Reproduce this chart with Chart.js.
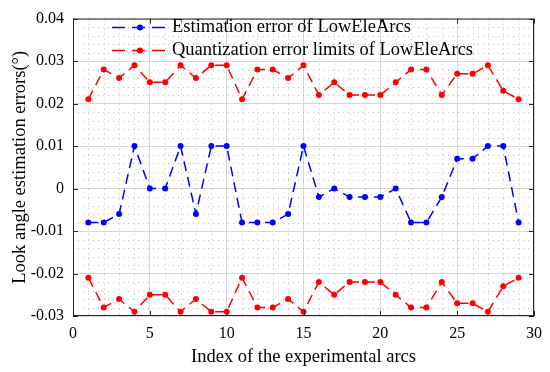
<!DOCTYPE html>
<html>
<head>
<meta charset="utf-8">
<script src="https://cdn.jsdelivr.net/npm/chart.js@4/dist/chart.umd.min.js"></script>
<style>
  html, body { margin: 0; padding: 0; background: #fff; }
  #wrap { width: 550px; height: 372px; }
</style>
</head>
<body>
<div id="wrap"><canvas id="errChart" width="550" height="372"></canvas></div>
<script>
// Index of the arcs and values
const arcIndex = [1, 2, 3, 4, 5, 6, 7, 8, 9, 10, 11, 12, 13, 14, 15, 16, 17, 18, 19, 20, 21, 22, 23, 24, 25, 26, 27, 28, 29];
const estError = [-0.008, -0.008, -0.006, 0.010, 0.000, 0.000, 0.010, -0.006, 0.010, 0.010,
                  -0.008, -0.008, -0.008, -0.006, 0.010, -0.002, 0.000, -0.002, -0.002, -0.002,
                  0.000, -0.008, -0.008, -0.002, 0.007, 0.007, 0.010, 0.010, -0.008];
const quantUpper = [0.021, 0.028, 0.026, 0.029, 0.025, 0.025, 0.029, 0.026, 0.029, 0.029,
                    0.021, 0.028, 0.028, 0.026, 0.029, 0.022, 0.025, 0.022, 0.022, 0.022,
                    0.025, 0.028, 0.028, 0.022, 0.027, 0.027, 0.029, 0.023, 0.021];
const quantLower = [-0.021, -0.028, -0.026, -0.029, -0.025, -0.025, -0.029, -0.026, -0.029, -0.029,
                    -0.021, -0.028, -0.028, -0.026, -0.029, -0.022, -0.025, -0.022, -0.022, -0.022,
                    -0.025, -0.028, -0.028, -0.022, -0.027, -0.027, -0.029, -0.023, -0.021];
const xTicks = [0, 5, 10, 15, 20, 25, 30];
const yTicks = [-0.03, -0.02, -0.01, 0, 0.01, 0.02, 0.03, 0.04];
const xMinorStep = 1;
const yMinorStep = 0.002;

const serif = '"Liberation Serif", "Times New Roman", serif';
const toPts = vals => arcIndex.map((x, i) => ({ x: x, y: vals[i] }));

function lineSet(label, vals, color) {
    return {
        label: label,
        data: toPts(vals),
        borderColor: color,
        backgroundColor: color,
        borderWidth: 1.5,
        borderDash: [10, 6],
        pointRadius: 3,
        pointBorderWidth: 0,
        pointBackgroundColor: color,
        tension: 0
    };
}

// dotted minor grid
const minorGrid = {
    id: 'minorGrid',
    beforeDatasetsDraw(chart) {
        const { ctx, chartArea: a, scales: { x, y } } = chart;
        ctx.save();
        ctx.strokeStyle = '#bdbdbd';
        ctx.lineWidth = 1;
        ctx.setLineDash([1, 4]);
        for (let v = x.min + xMinorStep; v < x.max; v += xMinorStep) {
            if (xTicks.some(t => Math.abs(t - v) < 1e-9)) continue;
            const px = Math.round(x.getPixelForValue(v)) + 0.5;
            ctx.beginPath(); ctx.moveTo(px, a.top); ctx.lineTo(px, a.bottom); ctx.stroke();
        }
        for (let k = 1; ; k++) {
            const v = y.min + k * yMinorStep;
            if (v >= y.max - 1e-9) break;
            if (yTicks.some(t => Math.abs(t - v) < 1e-9)) continue;
            const py = Math.round(y.getPixelForValue(v)) + 0.5;
            ctx.beginPath(); ctx.moveTo(a.left, py); ctx.lineTo(a.right, py); ctx.stroke();
        }
        ctx.restore();
    }
};

// box + inward ticks + legend
const frameAndLegend = {
    id: 'frameAndLegend',
    afterDraw(chart) {
        const { ctx, chartArea: a, scales: { x, y } } = chart;
        ctx.save();
        ctx.strokeStyle = '#262626';
        ctx.lineWidth = 1;
        ctx.setLineDash([]);
        ctx.strokeRect(a.left + 0.5, a.top + 0.5, a.right - a.left - 1, a.bottom - a.top - 1);
        const tl = 5;
        xTicks.forEach(t => {
            const px = Math.round(x.getPixelForValue(t)) + 0.5;
            ctx.beginPath();
            ctx.moveTo(px, a.bottom); ctx.lineTo(px, a.bottom - tl);
            ctx.moveTo(px, a.top); ctx.lineTo(px, a.top + tl);
            ctx.stroke();
        });
        yTicks.forEach(t => {
            const py = Math.round(y.getPixelForValue(t)) + 0.5;
            ctx.beginPath();
            ctx.moveTo(a.left, py); ctx.lineTo(a.left + tl, py);
            ctx.moveTo(a.right, py); ctx.lineTo(a.right - tl, py);
            ctx.stroke();
        });

        // legend (first two datasets)
        const rows = [0, 1];
        rows.forEach((di, r) => {
            const ds = chart.data.datasets[di];
            const cy = a.top + 9 + r * 23;
            const x0 = a.left + 39, x1 = a.left + 95;
            ctx.strokeStyle = ds.borderColor;
            ctx.lineWidth = 1.5;
            ctx.setLineDash([13, 7]);
            ctx.beginPath(); ctx.moveTo(x0, cy); ctx.lineTo(x1, cy); ctx.stroke();
            ctx.setLineDash([]);
            ctx.fillStyle = ds.borderColor;
            ctx.beginPath(); ctx.arc((x0 + x1) / 2, cy, 3, 0, Math.PI * 2); ctx.fill();
            ctx.fillStyle = '#000';
            ctx.font = '18.5px ' + serif;
            ctx.textBaseline = 'middle';
            ctx.textAlign = 'left';
            ctx.fillText(ds.label, x1 + 4, cy);
        });
        ctx.restore();
    }
};

const ctx = document.getElementById('errChart').getContext('2d');
new Chart(ctx, {
    type: 'line',
    data: {
        datasets: [
            lineSet('Estimation error of LowEleArcs', estError, '#0000ff'),
            lineSet('Quantization error limits of LowEleArcs', quantUpper, '#ff0000'),
            lineSet('', quantLower, '#ff0000')
        ]
    },
    options: {
        responsive: false,
        animation: false,
        devicePixelRatio: 1,
        layout: { padding: { top: 11, right: 15, left: 0, bottom: 0 } },
        plugins: {
            legend: { display: false },
            tooltip: { enabled: false }
        },
        scales: {
            x: {
                type: 'linear',
                min: 0, max: 30,
                afterBuildTicks: s => { s.ticks = xTicks.map(v => ({ value: v })); },
                afterFit: s => { s.height = 56; },
                grid: { color: '#d6d6d6', drawTicks: false },
                border: { display: false },
                ticks: { color: '#000', padding: 8, maxRotation: 0, font: { family: serif, size: 16 } },
                title: {
                    display: true,
                    text: 'Index of the experimental arcs',
                    color: '#000',
                    font: { family: serif, size: 18.5 },
                    padding: { top: 0, bottom: 4 }
                }
            },
            y: {
                type: 'linear',
                min: -0.03, max: 0.04,
                afterBuildTicks: s => { s.ticks = yTicks.map(v => ({ value: v })); },
                afterFit: s => { s.width = 73; },
                grid: { color: '#d6d6d6', drawTicks: false },
                border: { display: false },
                ticks: {
                    color: '#000', padding: 9,
                    font: { family: serif, size: 16 },
                    callback: v => String(parseFloat(v.toFixed(2)))
                },
                title: {
                    display: true,
                    text: 'Look angle estimation errors(°)',
                    color: '#000',
                    font: { family: serif, size: 18.5 },
                    padding: { top: 9, bottom: 0 }
                }
            }
        }
    },
    plugins: [minorGrid, frameAndLegend]
});
</script>
</body>
</html>
